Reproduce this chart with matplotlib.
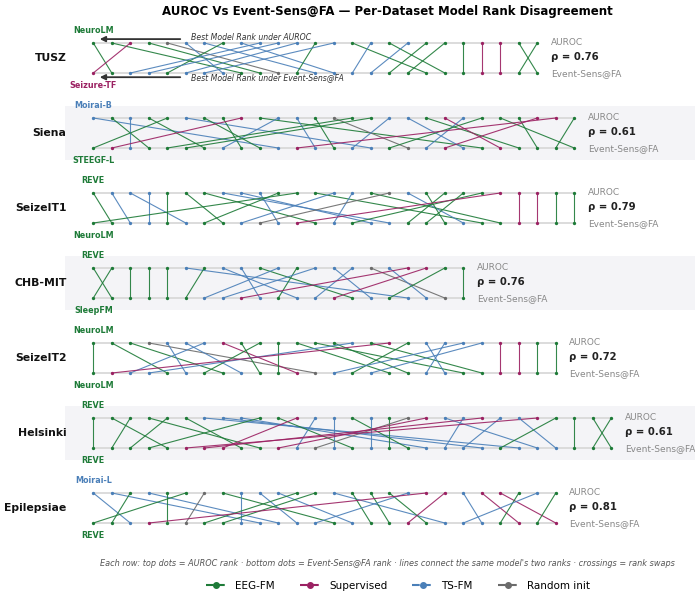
import matplotlib
matplotlib.use("Agg")
import matplotlib.pyplot as plt
from matplotlib.lines import Line2D
from matplotlib.patches import Rectangle

# datasets, top to bottom
datasets = ["TUSZ", "Siena", "SeizeIT1", "CHB-MIT", "SeizeIT2", "Helsinki", "Epilepsiae"]

# model categories in AUROC rank order (G=EEG-FM, S=Supervised, T=TS-FM, R=Random init)
tusz_cats = "GGSGRTTGTTTTGTGTGTGGGSSGG"
siena_cats = "TGTGGTGGSGTTGRGGTTGSTGGGSSG"
seizeit1_cats = "GTTTGGGTTTGGGTTGRTGGGGSSSGG"
chbmit_cats = "GGGGGTGTTGTGTTTRTSSGG"
seizeit2_cats = "GGGRTTTSGGGGGGTGSGTTTTSSGG"
helsinki_cats = "GGGGGGTTTGGSTTGTGRSTTSTTSGGGG"
epilepsiae_cats = "TTGTGGRGTTTGGTGGGTSSTSSGTG"

# Event-Sens@FA rank of each model, listed in AUROC rank order
tusz_event = [1, 8, 0, 9, 10, 7, 12, 4, 13, 2, 3, 5, 11, 6, 18, 14, 19, 15, 16, 17, 20, 21, 22, 24, 23]
siena_event = [10, 3, 2, 6, 0, 15, 9, 8, 1, 21, 7, 12, 13, 17, 4, 5, 14, 20, 23, 22, 18, 16, 26, 24, 19, 11, 25]
seizeit1_event = [1, 2, 5, 3, 4, 7, 12, 16, 15, 10, 6, 0, 21, 8, 13, 22, 9, 20, 19, 17, 18, 14, 11, 23, 24, 25, 26]
chbmit_event = [1, 0, 2, 3, 4, 17, 5, 11, 9, 14, 6, 10, 7, 15, 12, 19, 18, 8, 13, 16, 20]
seizeit2_event = [0, 4, 7, 12, 5, 8, 2, 11, 9, 6, 10, 16, 20, 17, 3, 21, 1, 14, 19, 18, 13, 15, 22, 23, 24, 25]
helsinki_event = [0, 4, 1, 9, 2, 8, 23, 21, 18, 3, 14, 7, 11, 13, 17, 15, 16, 12, 10, 24, 19, 6, 20, 25, 5, 22, 26, 28, 27]
epilepsiae_event = [2, 9, 1, 10, 4, 0, 5, 13, 8, 11, 14, 6, 7, 19, 15, 16, 18, 12, 3, 17, 21, 23, 25, 22, 20, 24]

rho = [0.76, 0.61, 0.79, 0.76, 0.72, 0.61, 0.81]
best_auroc = ["NeuroLM", "Moirai-B", "REVE", "REVE", "NeuroLM", "REVE", "Moirai-L"]
best_event = ["Seizure-TF", "STEEGF-L", "NeuroLM", "SleepFM", "NeuroLM", "REVE", "REVE"]

all_cats = [tusz_cats, siena_cats, seizeit1_cats, chbmit_cats, seizeit2_cats, helsinki_cats, epilepsiae_cats]
all_event = [tusz_event, siena_event, seizeit1_event, chbmit_event, seizeit2_event, helsinki_event, epilepsiae_event]

colors = {"G": "#1e7b38", "S": "#9b2162", "T": "#4a7fb8", "R": "#6b6b6b"}
cat_names = {"G": "EEG-FM", "S": "Supervised", "T": "TS-FM", "R": "Random init"}

W, H = 695, 598
fig = plt.figure(figsize=(W / 100, H / 100), dpi=100)
ax = fig.add_axes([0, 0, 1, 1])
# 1 x-unit = one rank step (18.5 px); 1 y-unit = gap between the two dot rows (30 px)
x0, dx = 93.3, 18.5
y0, dy = 43, 30
ax.set_xlim(-x0 / dx, (W - x0) / dx)
ax.set_ylim(-(H - y0) / dy, y0 / dy)
ax.axis("off")

row_gap = 2.5
for i, name in enumerate(datasets):
    cats = all_cats[i]
    ev = all_event[i]
    n = len(cats)
    yt = -i * row_gap
    yb = yt - 1
    if i % 2 == 1:
        ax.add_patch(Rectangle((-1.53, yb - 0.4), 40, 1.8, facecolor="#f4f4f7",
                               edgecolor="none", zorder=0))
    ax.plot([0, n - 1], [yt, yt], color="#d6d6d6", lw=1.2, zorder=1)
    ax.plot([0, n - 1], [yb, yb], color="#d6d6d6", lw=1.2, zorder=1)
    for r, c in enumerate(cats):
        ax.plot([r, ev[r]], [yt, yb], color=colors[c], lw=0.8, alpha=0.9, zorder=2)
    for r, c in enumerate(cats):
        ax.plot(r, yt, "o", color=colors[c], ms=2.4, mew=0, zorder=3)
        ax.plot(ev[r], yb, "o", color=colors[c], ms=2.4, mew=0, zorder=3)
    # best model labels
    top_c = colors[cats[0]]
    bot_c = colors[cats[ev.index(0)]]
    ax.text(0, yt + 0.43, best_auroc[i], color=top_c, fontsize=5.8, fontweight="bold",
            ha="center", va="center")
    ax.text(0, yb - 0.43, best_event[i], color=bot_c, fontsize=5.8, fontweight="bold",
            ha="center", va="center")
    # dataset name
    ax.text(-1.45, yt - 0.5, name, fontsize=7.8, fontweight="bold", ha="right", va="center",
            color="#111111")
    # right side annotations
    xr = n - 1 + 0.73
    ax.text(xr, yt + 0.03, "AUROC", fontsize=6.5, color="#888888", ha="left", va="center")
    ax.text(xr, yt - 0.47, "ρ = %.2f" % rho[i], fontsize=7.3, fontweight="bold",
            color="#222222", ha="left", va="center")
    ax.text(xr, yb - 0.03, "Event-Sens@FA", fontsize=6.5, color="#888888", ha="left",
            va="center")

# arrows for the first row
ax.annotate("", xy=(0.2, 0.13), xytext=(4.85, 0.13),
            arrowprops=dict(arrowstyle="-|>", color="#333333", lw=1.3, mutation_scale=8))
ax.text(5.3, 0.17, "Best Model Rank under AUROC", fontsize=5.6, style="italic",
        color="#333333", ha="left", va="center")
ax.annotate("", xy=(0.2, -1.14), xytext=(4.85, -1.14),
            arrowprops=dict(arrowstyle="-|>", color="#333333", lw=1.3, mutation_scale=8))
ax.text(5.3, -1.14, "Best Model Rank under Event-Sens@FA", fontsize=5.6, style="italic",
        color="#333333", ha="left", va="center")

fig.text(387 / W, 1 - 12 / H, "AUROC Vs Event-Sens@FA — Per-Dataset Model Rank Disagreement",
         fontsize=8.5, fontweight="bold", ha="center", va="center")
fig.text(387 / W, 1 - 564 / H,
         "Each row: top dots = AUROC rank · bottom dots = Event-Sens@FA rank · "
         "lines connect the same model's two ranks · crossings = rank swaps",
         fontsize=5.85, style="italic", color="#555555", ha="center", va="center")

handles = [Line2D([0], [0], color=colors[k], lw=1.5, ls="--", marker="o", ms=4)
           for k in ["G", "S", "T", "R"]]
fig.legend(handles, [cat_names[k] for k in ["G", "S", "T", "R"]], loc="center",
           bbox_to_anchor=(398 / W, 1 - 586 / H), ncol=4, frameon=False, fontsize=7.5,
           handlelength=2.0, columnspacing=2.4)

plt.savefig("out.png", dpi=100)
